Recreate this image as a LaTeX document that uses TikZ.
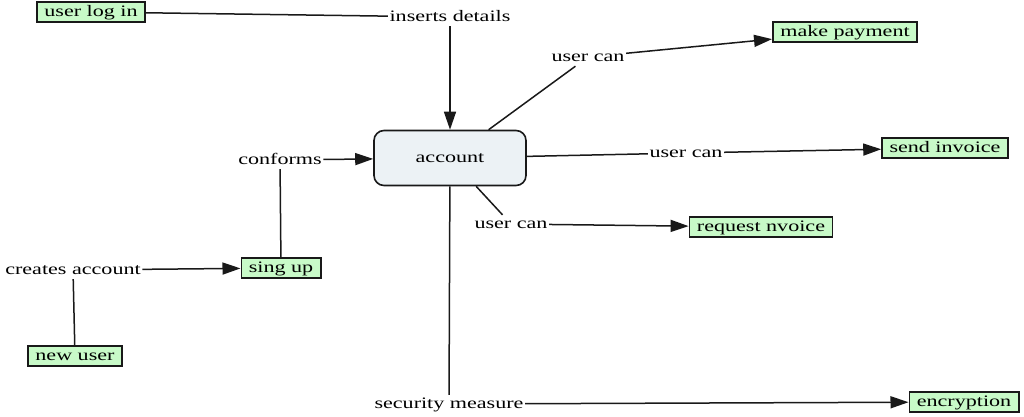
\documentclass[tikz,border=0pt]{standalone}
\usepackage{fontspec}
\setmainfont[FakeStretch=1.38]{Liberation Serif}
\usetikzlibrary{arrows.meta}
\definecolor{boxgreen}{RGB}{200,250,200}
\definecolor{accfill}{RGB}{236,242,245}
\tikzset{
  every node/.style={font=\rmfamily\fontsize{16}{18}\selectfont, text height=12pt, text depth=3pt},
  leaf/.style={draw=black!90, line width=1.6pt, fill=boxgreen, inner xsep=7.5pt, inner ysep=2.5pt},
  lbl/.style={inner sep=1.5pt},
  acct/.style={draw=black!90, line width=1.6pt, fill=accfill, rounded corners=10pt, minimum width=152pt, minimum height=55pt},
  conn/.style={line width=1.5pt, draw=black!90},
  arr/.style={conn, -{Triangle[length=18pt, width=12pt]}}
}
\begin{document}
\begin{tikzpicture}[x=1pt, y=-1pt]
\useasboundingbox (0,0) rectangle (1024,416);
\node[acct] (acc) at (450,158) {account};
\node[leaf] (uli) at (91,12) {user log in};
\node[lbl] (insd) at (450,17) {inserts details};
\node[lbl] (conf) at (280,160) {conforms};
\node[leaf] (su) at (281,268) {sing up};
\node[lbl] (ca) at (73,270) {creates account};
\node[leaf] (nu) at (75,356) {new user};
\node[lbl] (uc1) at (588,57) {user can};
\node[leaf] (mp) at (845,32) {make payment};
\node[lbl] (uc2) at (686,153) {user can};
\node[leaf] (si) at (945,148) {send invoice};
\node[lbl] (uc3) at (511,224) {user can};
\node[leaf] (ri) at (761,227) {request nvoice};
\node[lbl] (sec) at (449,404) {security measure};
\node[leaf] (enc) at (964,402) {encryption};

\draw[conn] (uli) -- (insd);
\draw[arr] (insd) -- (acc);
\draw[arr] (conf) -- (acc);
\draw[conn] (conf) -- (su);
\draw[arr] (ca) -- (su);
\draw[conn] (nu) -- (ca);
\draw[conn] (acc) -- (uc1);
\draw[arr] (uc1) -- (mp);
\draw[conn] (acc) -- (uc2);
\draw[arr] (uc2) -- (si);
\draw[conn] (acc) -- (uc3);
\draw[arr] (uc3) -- (ri);
\draw[conn] (acc) -- (sec);
\draw[arr] (sec) -- (enc);
\end{tikzpicture}
\end{document}
